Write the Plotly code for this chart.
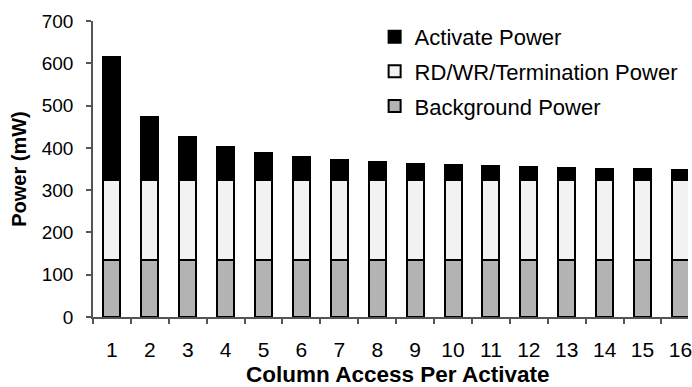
import plotly.graph_objects as go

categories = [str(i) for i in range(1, 17)]
background_power = [135] * 16
rdwr_power = [190] * 16
activate_power = [290, 148, 101, 77, 63, 53, 47, 41, 38, 35, 32, 29, 28, 26, 25, 23]
y_ticks = [0, 100, 200, 300, 400, 500, 600, 700]

FONT = "Liberation Sans, Arial, sans-serif"

fig = go.Figure()
series = [
    ("Background Power", background_power, "#b3b3b3", 3),
    ("RD/WR/Termination Power", rdwr_power, "#f2f2f2", 2),
    ("Activate Power", activate_power, "#000000", 1),
]
for name, vals, color, rank in series:
    fig.add_trace(go.Bar(
        x=categories, y=vals, name=name, legendgroup=name, legendrank=rank,
        marker=dict(color=color, line=dict(color="#000000", width=2)),
        width=0.45,
    ))

fig.update_layout(
    width=692, height=387,
    barmode="stack",
    paper_bgcolor="white", plot_bgcolor="white",
    margin=dict(l=93, r=0, t=21, b=70),
    font=dict(family=FONT, color="#000000"),
    showlegend=True,
    legend=dict(
        x=0.4733, y=1.017, xanchor="left", yanchor="top",
        traceorder="grouped", tracegroupgap=3,
        font=dict(size=22, family=FONT),
        bgcolor="rgba(0,0,0,0)", itemwidth=30,
    ),
    annotations=[dict(
        text="<b>Column Access Per Activate</b>", xref="paper", yref="paper",
        x=0.5125, y=-0.195, xanchor="center", yanchor="middle", showarrow=False,
        font=dict(size=22.5, family=FONT, color="#000000"),
    )],
)
fig.update_xaxes(
    type="category", range=[-0.5, 15.2],
    showline=True, linecolor="#555555", linewidth=1.5,
    ticks="outside", tickson="boundaries", ticklen=5, tickcolor="#555555", tickwidth=1.5,
    tickfont=dict(size=21, family=FONT), ticklabelstandoff=13,
    showgrid=False, zeroline=False,
)
fig.update_yaxes(
    range=[0, 700], tickvals=y_ticks,
    showline=True, linecolor="#555555", linewidth=1.5,
    ticks="outside", ticklen=5, tickcolor="#555555", tickwidth=1.5,
    tickfont=dict(size=19, family=FONT), ticklabelstandoff=9,
    showgrid=False, zeroline=False,
    title=dict(text="<b>Power (mW)</b>", font=dict(size=20, family=FONT), standoff=10),
)

fig.write_html("out.html")
